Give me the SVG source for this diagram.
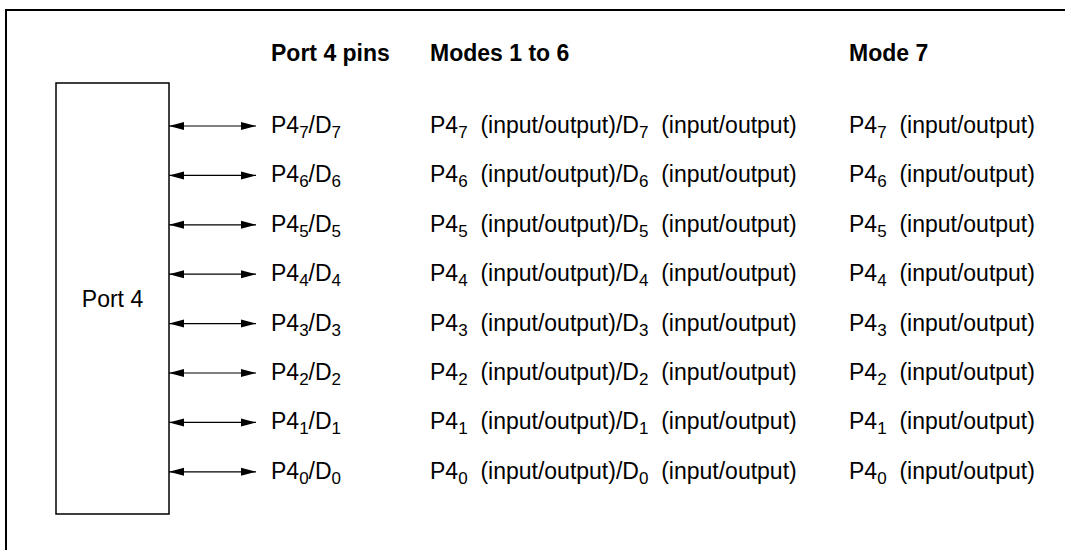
<svg xmlns="http://www.w3.org/2000/svg" width="1065" height="550" viewBox="0 0 1065 550">
<style>
text{font-family:"Liberation Sans",Arial,sans-serif;font-size:23px;fill:#000;white-space:pre}
.h{font-weight:bold}
.s{font-size:17px}
.ln{stroke:#000;stroke-width:1.2;fill:none}
</style>
<defs>
<marker id="ah" markerUnits="userSpaceOnUse" markerWidth="16" markerHeight="10" refX="15" refY="5" orient="auto-start-reverse">
<path d="M0,1 L15,5 L0,9 Z" fill="#000"/>
</marker>
</defs>
<rect x="6" y="10" width="1080" height="560" fill="#fff" stroke="#000" stroke-width="2"/>
<g id="headers">
<text class="h" x="271" y="61">Port 4 pins</text>
<text class="h" x="430" y="61">Modes 1 to 6</text>
<text class="h" x="849" y="61">Mode 7</text>
</g>
<g id="port4">
<rect x="56" y="83" width="113" height="431" fill="#fff" stroke="#000" stroke-width="1.5"/>
<text x="112.5" y="307" text-anchor="middle">Port 4</text>
</g>
<g id="connectors">
<line class="ln" x1="169" y1="126" x2="256" y2="126" marker-start="url(#ah)" marker-end="url(#ah)"/>
<line class="ln" x1="169" y1="175.4" x2="256" y2="175.4" marker-start="url(#ah)" marker-end="url(#ah)"/>
<line class="ln" x1="169" y1="224.8" x2="256" y2="224.8" marker-start="url(#ah)" marker-end="url(#ah)"/>
<line class="ln" x1="169" y1="274.2" x2="256" y2="274.2" marker-start="url(#ah)" marker-end="url(#ah)"/>
<line class="ln" x1="169" y1="323.6" x2="256" y2="323.6" marker-start="url(#ah)" marker-end="url(#ah)"/>
<line class="ln" x1="169" y1="373" x2="256" y2="373" marker-start="url(#ah)" marker-end="url(#ah)"/>
<line class="ln" x1="169" y1="422.4" x2="256" y2="422.4" marker-start="url(#ah)" marker-end="url(#ah)"/>
<line class="ln" x1="169" y1="471.8" x2="256" y2="471.8" marker-start="url(#ah)" marker-end="url(#ah)"/>
</g>
<g id="row7">
<text x="271" y="133">P4<tspan class="s" dy="5">7</tspan><tspan dy="-5">/D</tspan><tspan class="s" dy="5">7</tspan></text>
<text x="430" y="133">P4<tspan class="s" dy="5">7</tspan><tspan dy="-5">  (input/output)/D</tspan><tspan class="s" dy="5">7</tspan><tspan dy="-5">  (input/output)</tspan></text>
<text x="849" y="133">P4<tspan class="s" dy="5">7</tspan><tspan dy="-5">  (input/output)</tspan></text>
</g>
<g id="row6">
<text x="271" y="182.4">P4<tspan class="s" dy="5">6</tspan><tspan dy="-5">/D</tspan><tspan class="s" dy="5">6</tspan></text>
<text x="430" y="182.4">P4<tspan class="s" dy="5">6</tspan><tspan dy="-5">  (input/output)/D</tspan><tspan class="s" dy="5">6</tspan><tspan dy="-5">  (input/output)</tspan></text>
<text x="849" y="182.4">P4<tspan class="s" dy="5">6</tspan><tspan dy="-5">  (input/output)</tspan></text>
</g>
<g id="row5">
<text x="271" y="231.8">P4<tspan class="s" dy="5">5</tspan><tspan dy="-5">/D</tspan><tspan class="s" dy="5">5</tspan></text>
<text x="430" y="231.8">P4<tspan class="s" dy="5">5</tspan><tspan dy="-5">  (input/output)/D</tspan><tspan class="s" dy="5">5</tspan><tspan dy="-5">  (input/output)</tspan></text>
<text x="849" y="231.8">P4<tspan class="s" dy="5">5</tspan><tspan dy="-5">  (input/output)</tspan></text>
</g>
<g id="row4">
<text x="271" y="281.2">P4<tspan class="s" dy="5">4</tspan><tspan dy="-5">/D</tspan><tspan class="s" dy="5">4</tspan></text>
<text x="430" y="281.2">P4<tspan class="s" dy="5">4</tspan><tspan dy="-5">  (input/output)/D</tspan><tspan class="s" dy="5">4</tspan><tspan dy="-5">  (input/output)</tspan></text>
<text x="849" y="281.2">P4<tspan class="s" dy="5">4</tspan><tspan dy="-5">  (input/output)</tspan></text>
</g>
<g id="row3">
<text x="271" y="330.6">P4<tspan class="s" dy="5">3</tspan><tspan dy="-5">/D</tspan><tspan class="s" dy="5">3</tspan></text>
<text x="430" y="330.6">P4<tspan class="s" dy="5">3</tspan><tspan dy="-5">  (input/output)/D</tspan><tspan class="s" dy="5">3</tspan><tspan dy="-5">  (input/output)</tspan></text>
<text x="849" y="330.6">P4<tspan class="s" dy="5">3</tspan><tspan dy="-5">  (input/output)</tspan></text>
</g>
<g id="row2">
<text x="271" y="380">P4<tspan class="s" dy="5">2</tspan><tspan dy="-5">/D</tspan><tspan class="s" dy="5">2</tspan></text>
<text x="430" y="380">P4<tspan class="s" dy="5">2</tspan><tspan dy="-5">  (input/output)/D</tspan><tspan class="s" dy="5">2</tspan><tspan dy="-5">  (input/output)</tspan></text>
<text x="849" y="380">P4<tspan class="s" dy="5">2</tspan><tspan dy="-5">  (input/output)</tspan></text>
</g>
<g id="row1">
<text x="271" y="429.4">P4<tspan class="s" dy="5">1</tspan><tspan dy="-5">/D</tspan><tspan class="s" dy="5">1</tspan></text>
<text x="430" y="429.4">P4<tspan class="s" dy="5">1</tspan><tspan dy="-5">  (input/output)/D</tspan><tspan class="s" dy="5">1</tspan><tspan dy="-5">  (input/output)</tspan></text>
<text x="849" y="429.4">P4<tspan class="s" dy="5">1</tspan><tspan dy="-5">  (input/output)</tspan></text>
</g>
<g id="row0">
<text x="271" y="478.8">P4<tspan class="s" dy="5">0</tspan><tspan dy="-5">/D</tspan><tspan class="s" dy="5">0</tspan></text>
<text x="430" y="478.8">P4<tspan class="s" dy="5">0</tspan><tspan dy="-5">  (input/output)/D</tspan><tspan class="s" dy="5">0</tspan><tspan dy="-5">  (input/output)</tspan></text>
<text x="849" y="478.8">P4<tspan class="s" dy="5">0</tspan><tspan dy="-5">  (input/output)</tspan></text>
</g>
</svg>
